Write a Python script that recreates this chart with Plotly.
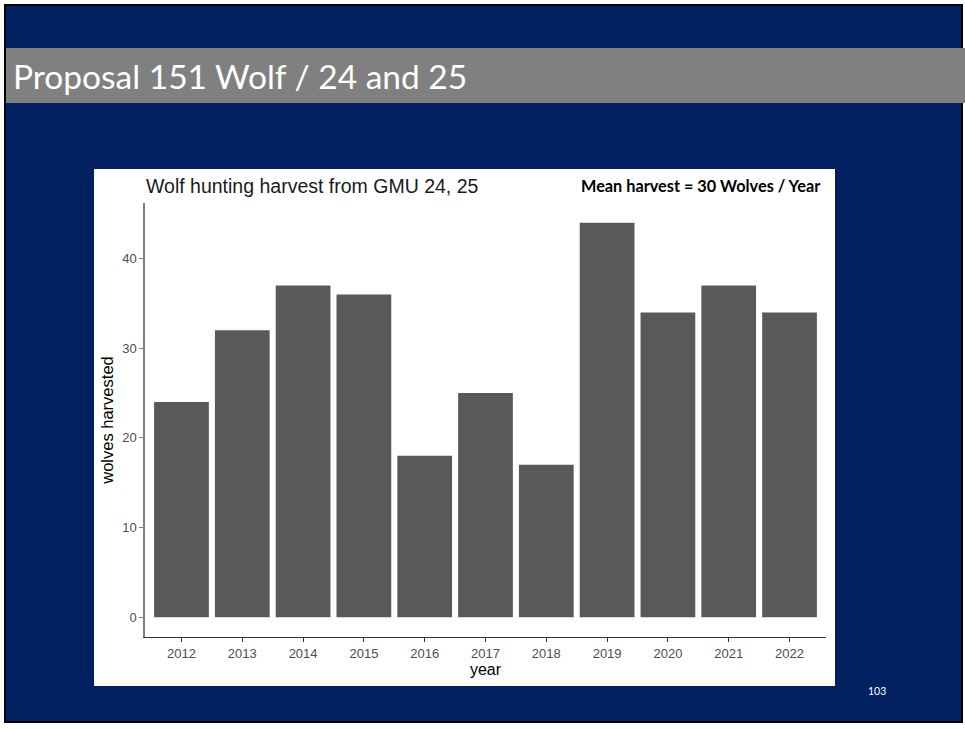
import plotly.graph_objects as go

# Wolf harvest by year, GMU 24 and 25
years = ["2012", "2013", "2014", "2015", "2016", "2017", "2018", "2019", "2020", "2021", "2022"]
wolves = [24, 32, 37, 36, 18, 25, 17, 44, 34, 37, 34]
y_ticks = [0, 10, 20, 30, 40]

W, H = 965, 729
NAVY = "#002060"


def px(x):
    return x / W


def py(y):
    return 1 - y / H


fig = go.Figure()
fig.add_trace(go.Bar(
    x=years, y=wolves, marker=dict(color="#595959", line=dict(width=0)),
    width=0.9, hoverinfo="x+y",
))

shapes = [
    # slide frame
    dict(type="rect", xref="paper", yref="paper", x0=px(5), x1=px(962), y0=py(5), y1=py(722),
         fillcolor=NAVY, line=dict(color="black", width=2), layer="below"),
    # title band
    dict(type="rect", xref="paper", yref="paper", x0=px(6), x1=1, y0=py(48), y1=py(103),
         fillcolor="#808080", line=dict(width=0), layer="below"),
    # white chart panel
    dict(type="rect", xref="paper", yref="paper", x0=px(94), x1=px(835), y0=py(169), y1=py(686),
         fillcolor="white", line=dict(width=0), layer="below"),
]

annotations = [
    dict(text="Proposal 151 Wolf / 24 and 25", x=px(11), y=py(76), xref="paper", yref="paper",
         xanchor="left", yanchor="middle", showarrow=False,
         font=dict(family="Lato", size=33.5, color="white")),
    dict(text="Wolf hunting harvest from GMU 24, 25", x=px(144), y=py(186), xref="paper", yref="paper",
         xanchor="left", yanchor="middle", showarrow=False,
         font=dict(family="Liberation Sans", size=19.5, color="#1a1a1a")),
    dict(text="<b>Mean harvest = 30 Wolves / Year</b>", x=px(823), y=py(186), xref="paper", yref="paper",
         xanchor="right", yanchor="middle", showarrow=False,
         font=dict(family="Lato", size=16.3, color="black")),
    dict(text="103", x=px(877), y=py(691), xref="paper", yref="paper",
         xanchor="center", yanchor="middle", showarrow=False,
         font=dict(family="Lato", size=10.5, color="white")),
]

fig.update_layout(
    width=W, height=H,
    margin=dict(l=0, r=0, t=0, b=0),
    paper_bgcolor="white",
    plot_bgcolor="white",
    showlegend=False,
    shapes=shapes,
    annotations=annotations,
    bargap=0.1,
    xaxis=dict(
        domain=[px(145), px(826)],
        range=[-0.6, 10.6],
        tickvals=years, ticktext=years,
        showline=True, linecolor="#333333", linewidth=1,
        ticks="outside", ticklen=4, tickcolor="#333333",
        tickfont=dict(family="Liberation Sans", size=13, color="#4d4d4d"),
        showgrid=False, zeroline=False,
        title=dict(text="year", font=dict(family="Liberation Sans", size=16, color="black"), standoff=1),
    ),
    yaxis=dict(
        domain=[py(637), py(203)],
        range=[-2.2, 46.2],
        tickvals=y_ticks,
        showline=True, linecolor="#7f7f7f", linewidth=1.5,
        ticks="outside", ticklen=4, tickcolor="#7f7f7f",
        tickfont=dict(family="Liberation Sans", size=13, color="#4d4d4d"),
        showgrid=False, zeroline=False,
        title=dict(text="wolves harvested", font=dict(family="Liberation Sans", size=16.5, color="black"), standoff=4),
    ),
)

fig.write_html("out.html")
